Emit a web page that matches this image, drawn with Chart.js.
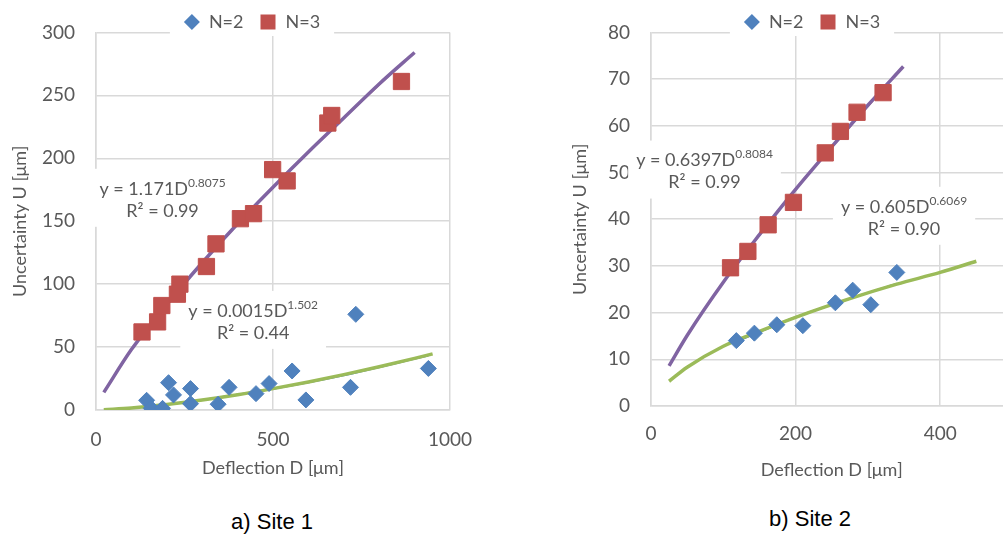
<!DOCTYPE html>
<html>
<head>
<meta charset="utf-8">
<script src="https://cdn.jsdelivr.net/npm/chart.js@4.4.0/dist/chart.umd.min.js"></script>
<style>
  html, body { margin: 0; padding: 0; background: #fff; width: 1003px; height: 536px; overflow: hidden; }
  canvas { position: absolute; top: 0; }
  #c1 { left: 0; }
  #c2 { left: 560px; }
  .cap { position: absolute; width: 200px; text-align: center; font-family: "Liberation Sans", Arial, sans-serif; font-size: 22px; color: #000; line-height: 26px; }
</style>
</head>
<body>
<canvas id="c1" width="490" height="490"></canvas>
<canvas id="c2" width="480" height="486"></canvas>
<div class="cap" style="left:172px; top:509px;">a) Site 1</div>
<div class="cap" style="left:710px; top:506px;">b) Site 2</div>
<script>
// couleurs type Excel 2007
const GRID = '#d9d9d9', TXT = '#595959';
const BLUE = '#4F81BD', RED = '#C0504D', PURPLE = '#8064A2', GREEN = '#9BBB59';

// --- Site 1 : points mesurés
const s1N2D = [143, 156, 188, 205, 219, 267, 267, 345, 376, 452, 489, 554, 593, 719, 734, 939];
const s1N2U = [7.7, 1.3, 1.3, 21.7, 12, 17, 5, 4.6, 18, 13, 21, 31, 8, 18, 76, 33];
const s1N3D = [130, 174, 186, 230, 237, 312, 339, 408, 445, 499, 540, 655, 666, 863];
const s1N3U = [62, 70, 83, 92, 100, 114, 132, 152, 156, 191, 182, 228, 234, 261];
// courbes
const s1FitN3D = [22, 100, 200, 300, 400, 500, 600, 700, 800, 900];
const s1FitN3U = [14, 48, 84, 117, 148, 177, 205, 232, 259, 284];
const s1TrN3D = [130, 300, 500, 700, 863];
const s1TrN3U = [60, 117, 177, 232, 275];
const s1FitN2D = [22, 100, 200, 300, 400, 500, 600, 700, 800, 900, 951];
const s1FitN2U = [0.2, 1.5, 4.3, 7.9, 12.1, 17, 22.3, 28.1, 34.4, 41, 44.6];
const s1TrN2D = [143, 300, 500, 700, 939];
const s1TrN2U = [2.6, 7.9, 16.8, 27.6, 43.2];

// --- Site 2
const s2N2D = [118, 143, 174, 210, 255, 279, 304, 340];
const s2N2U = [14.0, 15.6, 17.4, 17.2, 22.1, 24.8, 21.7, 28.6];
const s2N3D = [110, 134, 162, 197, 241, 262, 285, 321];
const s2N3U = [29.6, 33.1, 38.8, 43.6, 54.2, 58.8, 62.9, 67.1];
const s2FitN3D = [25, 50, 100, 150, 200, 250, 300, 349];
const s2FitN3U = [8.6, 15.1, 26.5, 36.7, 46.4, 55.5, 64.4, 72.7];
const s2TrN3D = [110, 200, 321];
const s2TrN3U = [28.6, 46.4, 67.9];
const s2FitN2D = [25, 50, 100, 150, 200, 275, 340, 400, 450];
const s2FitN2U = [5.3, 8.3, 12.8, 16.0, 19.0, 23.0, 26.1, 28.6, 31.0];
const s2TrN2D = [118, 200, 275, 340];
const s2TrN2U = [13.8, 19.0, 23.0, 26.2];

const legendNames = ['N=2', 'N=3'];
const xTitle = 'Deflection D [μm]';
const yTitle = 'Uncertainty U [μm]';

// étiquettes des équations
const s1Eq = [
  { base: 'y = 1.171D', sup: '0.8075', r2: 'R² = 0.99', d: 188, u: 167 },
  { base: 'y = 0.0015D', sup: '1.502', r2: 'R² = 0.44', d: 444, u: 70 }
];
const s2Eq = [
  { base: 'y = 0.6397D', sup: '0.8084', r2: 'R² = 0.99', d: 74, u: 50.2 },
  { base: 'y = 0.605D', sup: '0.6069', r2: 'R² = 0.90', d: 350, u: 40.3 }
];

const pts = (xs, ys) => xs.map((x, i) => ({ x: x, y: ys[i] }));

// légende + équations dessinées à la main (style Excel)
const decor = {
  id: 'decor',
  beforeDatasetsDraw(chart, args, opts) {
    const ctx = chart.ctx, xs = chart.scales.x, ys = chart.scales.y;
    ctx.save();
    ctx.textBaseline = 'middle';

    // légende
    ctx.font = '18px Lato';
    const w1 = ctx.measureText(legendNames[0]).width, w2 = ctx.measureText(legendNames[1]).width;
    const total = 16 + 9 + w1 + 17 + 15 + 10 + w2;
    let lx = opts.legendX - total / 2;
    const ly = opts.legendY;
    ctx.fillStyle = '#fff';
    ctx.fillRect(lx - 14, ly - 14, total + 28, 28);
    ctx.fillStyle = BLUE;
    ctx.beginPath();
    ctx.moveTo(lx, ly); ctx.lineTo(lx + 8, ly - 8); ctx.lineTo(lx + 16, ly); ctx.lineTo(lx + 8, ly + 8);
    ctx.closePath(); ctx.fill();
    lx += 16 + 9;
    ctx.fillStyle = TXT;
    ctx.textAlign = 'left';
    ctx.fillText(legendNames[0], lx, ly);
    lx += w1 + 17;
    ctx.fillStyle = RED;
    ctx.fillRect(lx, ly - 7.5, 15, 15);
    lx += 15 + 10;
    ctx.fillStyle = TXT;
    ctx.fillText(legendNames[1], lx, ly);

    // équations
    const gap = 22;
    opts.labels.forEach(l => {
      const px = xs.getPixelForValue(l.d), py = ys.getPixelForValue(l.u);
      ctx.font = '18px Lato';
      const wb = ctx.measureText(l.base).width, wr = ctx.measureText(l.r2).width;
      ctx.font = '12px Lato';
      const wsup = ctx.measureText(l.sup).width;
      const w = Math.max(wb + wsup, wr);
      ctx.fillStyle = '#fff';
      ctx.fillRect(px - w / 2 - 8, py - gap / 2 - 20, w + 16, gap + 36);
      ctx.fillStyle = TXT;
      ctx.textAlign = 'left';
      const sx = px - (wb + wsup) / 2;
      ctx.font = '18px Lato';
      ctx.fillText(l.base, sx, py - gap / 2);
      ctx.font = '12px Lato';
      ctx.fillText(l.sup, sx + wb, py - gap / 2 - 6);
      ctx.font = '18px Lato';
      ctx.textAlign = 'center';
      ctx.fillText(l.r2, px, py + gap / 2);
    });
    ctx.restore();
  }
};

function lineSet(xs, ys, color, width) {
  return {
    data: pts(xs, ys), showLine: true, pointRadius: 0, borderColor: color, borderWidth: width,
    cubicInterpolationMode: 'monotone', order: 1
  };
}

function buildChart(id, s) {
  return new Chart(document.getElementById(id), {
    type: 'scatter',
    data: {
      datasets: [
        { data: pts(s.n2d, s.n2u), pointStyle: 'rectRot', pointRadius: 8, backgroundColor: BLUE, borderColor: BLUE, borderWidth: 1, order: 0 },
        { data: pts(s.n3d, s.n3u), pointStyle: 'rect', pointRadius: 11.5, backgroundColor: RED, borderColor: RED, borderWidth: 1, order: 0 },
        lineSet(s.fitN3d, s.fitN3u, PURPLE, 3.5),
        lineSet(s.trN3d, s.trN3u, RED, 2),
        lineSet(s.fitN2d, s.fitN2u, GREEN, 3.5),
        lineSet(s.trN2d, s.trN2u, BLUE, 2)
      ]
    },
    options: {
      responsive: false,
      animation: false,
      devicePixelRatio: 1,
      layout: { padding: { top: 19, right: s.padRight, left: 0, bottom: 0 } },
      plugins: {
        legend: { display: false },
        tooltip: { enabled: false },
        decor: { legendX: 252, legendY: 22, labels: s.labels }
      },
      scales: {
        x: {
          min: 0, max: s.xMax,
          afterFit: sc => { sc.height = 80; },
          afterBuildTicks: sc => { sc.ticks = sc.ticks.filter(t => t.value % s.xStep === 0); },
          ticks: { stepSize: s.xStep, padding: s.xTickPad, color: TXT, font: { family: 'Lato', size: 19 }, callback: v => String(v) },
          grid: { color: GRID, lineWidth: 1.5, drawTicks: false },
          border: { color: GRID, width: 1.5 },
          title: { display: true, text: xTitle, color: TXT, font: { family: 'Lato', size: 18 }, padding: { top: 0, bottom: s.xTitlePad } }
        },
        y: {
          min: 0, max: s.yMax,
          afterFit: sc => { sc.width = s.yWidth; },
          ticks: { stepSize: s.yStep, padding: 21, color: TXT, font: { family: 'Lato', size: 19 }, callback: v => String(v) },
          grid: { color: GRID, lineWidth: 1.5, drawTicks: false },
          border: { color: GRID, width: 1.5 },
          title: { display: true, text: yTitle, color: TXT, font: { family: 'Lato', size: 18 }, padding: { top: 9, bottom: 0 } }
        }
      }
    },
    plugins: [decor]
  });
}

buildChart('c1', {
  n2d: s1N2D, n2u: s1N2U, n3d: s1N3D, n3u: s1N3U,
  fitN3d: s1FitN3D, fitN3u: s1FitN3U, trN3d: s1TrN3D, trN3u: s1TrN3U,
  fitN2d: s1FitN2D, fitN2u: s1FitN2U, trN2d: s1TrN2D, trN2u: s1TrN2U,
  xMax: 1000, xStep: 500, yMax: 300, yStep: 50,
  yWidth: 96, padRight: 33, xTickPad: 18, xTitlePad: 11, labels: s1Eq
});

buildChart('c2', {
  n2d: s2N2D, n2u: s2N2U, n3d: s2N3D, n3u: s2N3U,
  fitN3d: s2FitN3D, fitN3u: s2FitN3U, trN3d: s2TrN3D, trN3u: s2TrN3U,
  fitN2d: s2FitN2D, fitN2u: s2FitN2U, trN2d: s2TrN2D, trN2u: s2TrN2U,
  xMax: 500, xStep: 200, yMax: 80, yStep: 10,
  yWidth: 91, padRight: 27.5, xTickPad: 16, xTitlePad: 5, labels: s2Eq
});
</script>
</body>
</html>
